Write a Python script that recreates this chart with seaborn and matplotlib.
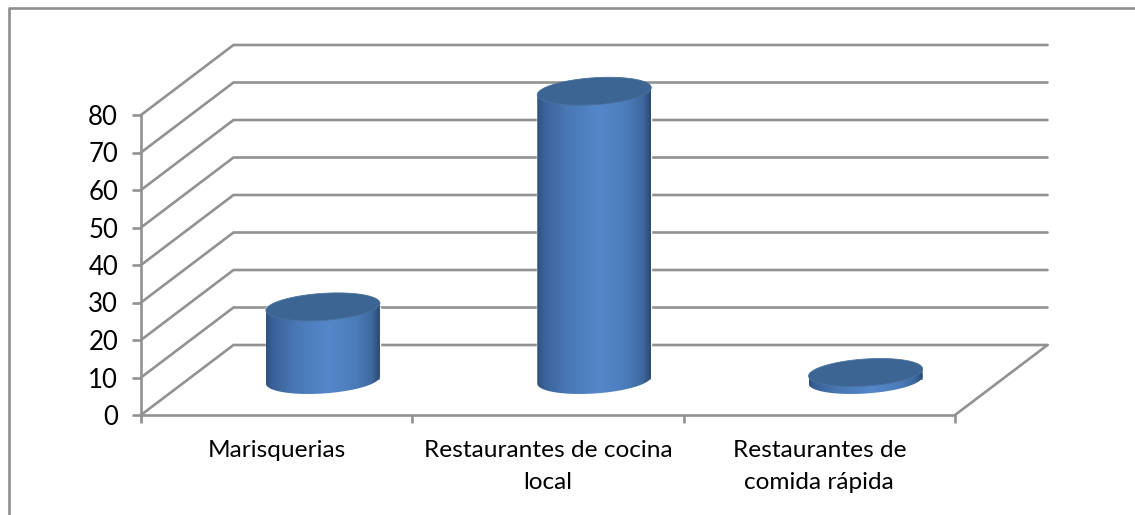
import numpy as np
import pandas as pd
import matplotlib
matplotlib.use("Agg")
import matplotlib.pyplot as plt
import seaborn as sns
from matplotlib.colors import LinearSegmentedColormap
from matplotlib.lines import Line2D
from matplotlib.path import Path
from matplotlib.patches import PathPatch, Polygon
from matplotlib.transforms import Affine2D

categories = ["Marisquerias", "Restaurantes de cocina\nlocal", "Restaurantes de\ncomida rápida"]
values = [19.5, 77, 2]
y_ticks = [0, 10, 20, 30, 40, 50, 60, 70, 80]

W, H = 1135, 515
GRAY = "#929292"
LW = 1.9
sns.set_theme(style="white")
plt.rcParams["font.family"] = ["Lato", "DejaVu Sans"]

fig = plt.figure(figsize=(W / 100, H / 100), dpi=100, facecolor="white")
L, R, B, T = 141, 955, 415, 115
ax = fig.add_axes([L / W, 1 - B / H, (R - L) / W, (B - T) / H])
df = pd.DataFrame({"cat": categories, "val": values})
sns.barplot(data=df, x="cat", y="val", width=114 / ((R - L) / 3), color="#4f7fbf",
            saturation=1, ax=ax, zorder=3)
ax.set_xlim(-0.5, 2.5)
ax.set_ylim(0, 80)
ax.set_xlabel("")
ax.set_ylabel("")
ax.patch.set_alpha(0)

px_x = (R - L) / 3
px_y = (B - T) / 80
depth_x, depth_y = 92.5 / px_x, 70 / px_y

# walls and floor
for v in y_ticks:
    ax.plot([-0.5, -0.5 + depth_x, 2.5 + depth_x], [v, v + depth_y, v + depth_y],
            color=GRAY, lw=LW, clip_on=False, zorder=1, solid_joinstyle="miter")
ax.plot([2.5, 2.5 + depth_x], [0, depth_y], color=GRAY, lw=LW, clip_on=False, zorder=1)

for s in ["top", "right"]:
    ax.spines[s].set_visible(False)
for s in ["left", "bottom"]:
    ax.spines[s].set_color(GRAY)
    ax.spines[s].set_linewidth(LW)
    ax.spines[s].set_zorder(2)
ax.set_yticks(y_ticks)
ax.set_xticks([0, 1, 2])
ax.set_xticks([-0.5, 0.5, 1.5, 2.5], minor=True)
ax.tick_params(axis="y", left=True, length=6.5, width=LW, color=GRAY, labelsize=18.5, pad=10,
               labelcolor="black")
ax.tick_params(axis="x", which="major", bottom=False, length=0, labelsize=17.6, pad=18,
               labelcolor="black")
ax.tick_params(axis="x", which="minor", bottom=True, length=6, width=LW, color=GRAY)
for lab in ax.get_xticklabels():
    lab.set_linespacing(1.62)
    lab.set_multialignment("center")

shade = LinearSegmentedColormap.from_list("cyl", [
    (0.00, "#2f5180"), (0.06, "#3a6298"), (0.25, "#4877b3"), (0.55, "#5587cb"),
    (0.80, "#4b7bb8"), (0.93, "#3e689e"), (1.00, "#2b4a72")])
ramp = np.linspace(0, 1, 256)[None, :]
half_w = 57 / px_x
shear = 3.6 / px_y
semi = 13.5 / px_y
t = np.linspace(0, 2 * np.pi, 181)

for bar in list(ax.patches):
    x0, w, h = bar.get_x(), bar.get_width(), bar.get_height()
    cx = x0 + w / 2 + depth_x / 2
    y0 = depth_y / 2
    y1 = y0 + h
    # the seaborn bar sits behind the cylinder, moved half way back
    bar.set_transform(Affine2D().translate(depth_x / 2, depth_y / 2) + ax.transData)
    bar.set_clip_on(False)
    ex = half_w * np.cos(t)
    ey = shear * np.cos(t) + semi * np.sin(t)
    low = t[(t >= np.pi) & (t <= 2 * np.pi)]
    bx = cx + half_w * np.cos(low)
    by = y0 + shear * np.cos(low) + semi * np.sin(low)
    body = np.vstack([[cx - half_w, y1 - shear], np.column_stack([bx, by]),
                      [cx + half_w, y1 + shear], [cx - half_w, y1 - shear]])
    clip = PathPatch(Path(body), transform=ax.transData, fc="none", ec="none")
    ax.add_patch(clip)
    clip.set_clip_on(False)
    im = ax.imshow(ramp, cmap=shade, aspect="auto", zorder=4, interpolation="bilinear",
                   extent=[cx - half_w, cx + half_w, y0 - 2 * semi, y1 + 2 * semi])
    im.set_clip_box(fig.bbox)
    im.set_clip_path(clip)
    cap = Polygon(np.column_stack([cx + ex, y1 + ey]), closed=True, fc="#3d6593", ec="#4a729f",
                  lw=0.6, zorder=5, clip_on=False)
    ax.add_patch(cap)

ax.set_xlim(-0.5, 2.5)
ax.set_ylim(0, 80)

# outer frame of the chart area
fig.add_artist(Line2D([8.5 / W, 8.5 / W, 1], [0, 1 - 8 / H, 1 - 8 / H], color="#8f8f8f", lw=1.9))

fig.savefig("out.png", dpi=100, facecolor="white")
